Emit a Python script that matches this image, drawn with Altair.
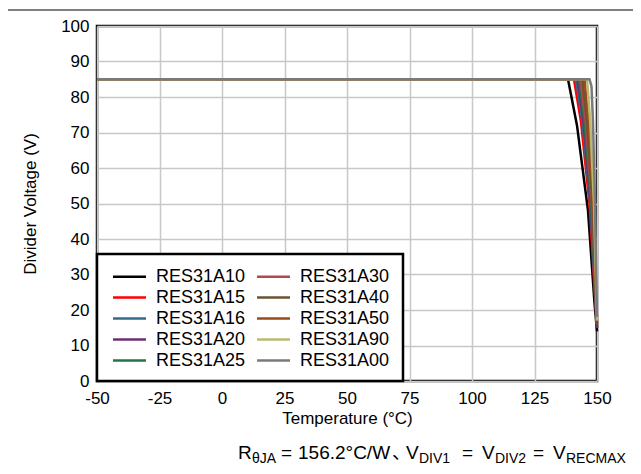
import altair as alt
import pandas as pd

# ---- data ----
series_names = ["RES31A10", "RES31A15", "RES31A16", "RES31A20", "RES31A25",
                "RES31A30", "RES31A40", "RES31A50", "RES31A90", "RES31A00"]
series_colors = ["#000000", "#ff0000", "#336b8c", "#6e2f72", "#23744c",
                 "#b4474b", "#6b5530", "#9a4a1c", "#bdb870", "#7a7a7a"]

temp_A10 = [-50, 138.4, 142.0, 146.4, 149.0, 150]
volt_A10 = [85, 85, 72, 48, 22, 14]
temp_A15 = [-50, 140.8, 143.6, 147.0, 149.2, 150]
volt_A15 = [85, 85, 73, 50, 24, 15]
temp_A16 = [-50, 141.6, 144.2, 147.3, 149.3, 150]
volt_A16 = [85, 85, 73, 50, 24, 15]
temp_A20 = [-50, 142.2, 144.6, 147.5, 149.4, 150]
volt_A20 = [85, 85, 73, 50, 24, 15]
temp_A25 = [-50, 142.8, 145.0, 147.7, 149.4, 150]
volt_A25 = [85, 85, 73, 50, 24, 16]
temp_A30 = [-50, 143.4, 145.5, 148.0, 149.5, 150]
volt_A30 = [85, 85, 73, 50, 24, 16]
temp_A40 = [-50, 144.2, 146.0, 148.2, 149.5, 150]
volt_A40 = [85, 85, 73, 50, 25, 16]
temp_A50 = [-50, 145.0, 146.6, 148.5, 149.6, 150]
volt_A50 = [85, 85, 73, 50, 25, 17]
temp_A90 = [-50, 146.0, 147.3, 148.8, 149.7, 150]
volt_A90 = [85, 85, 73, 50, 25, 17]
temp_A00 = [-50, 147.0, 147.8, 148.4, 149.2, 149.8, 150]
volt_A00 = [85, 85, 83, 73, 50, 25, 18]

x_ticks = [-50, -25, 0, 25, 50, 75, 100, 125, 150]
y_ticks = [0, 10, 20, 30, 40, 50, 60, 70, 80, 90, 100]

temps = [temp_A10, temp_A15, temp_A16, temp_A20, temp_A25,
         temp_A30, temp_A40, temp_A50, temp_A90, temp_A00]
volts = [volt_A10, volt_A15, volt_A16, volt_A20, volt_A25,
         volt_A30, volt_A40, volt_A50, volt_A90, volt_A00]

rows = []
for i, (name, ts, vs) in enumerate(zip(series_names, temps, volts)):
    for j, (t, v) in enumerate(zip(ts, vs)):
        rows.append({"Series": name, "T": t, "V": v, "k": j})
df = pd.DataFrame(rows)

FONT = "Liberation Sans"
W, H = 500, 355

xs = alt.X("T:Q", scale=alt.Scale(domain=[-50, 150], nice=False),
           axis=alt.Axis(values=x_ticks, title="Temperature (°C)", grid=True,
                         ticks=False, domain=False, labelPadding=9,
                         titlePadding=4, labelFlush=False, labelOverlap=False,
                         labelExpr="datum.value + ''"))
ys = alt.Y("V:Q", scale=alt.Scale(domain=[0, 100], nice=False),
           axis=alt.Axis(values=y_ticks, title="Divider Voltage (V)", grid=True,
                         ticks=False, domain=False, labelPadding=8,
                         titlePadding=21, labelOverlap=False,
                         labelExpr="datum.value + ''"))
color = alt.Color("Series:N",
                  scale=alt.Scale(domain=series_names, range=series_colors),
                  legend=alt.Legend(title=None, orient="none", legendX=23, legendY=241,
                                    columns=2, symbolType="M-2,0H2", symbolSize=272,
                                    symbolStrokeWidth=2.5, labelFontSize=18,
                                    labelFont=FONT, labelColor="black",
                                    labelOffset=17, rowPadding=2, columnPadding=6,
                                    padding=0))

base = alt.Chart(df)
lines_main = base.transform_filter(alt.datum.Series != "RES31A00").mark_line(
    strokeWidth=2.5).encode(x=xs, y=ys, color=color, order="k:Q")
lines_gray = base.transform_filter(alt.datum.Series == "RES31A00").mark_line(
    strokeWidth=2.5).encode(x=xs, y=ys, color=color, order="k:Q")

one = pd.DataFrame({"a": [0]})
legend_box = alt.Chart(one).mark_rect(fill="white", stroke="black", strokeWidth=2.5).encode(
    x=alt.value(0), x2=alt.value(306), y=alt.value(228), y2=alt.value(355))
top_rule = alt.Chart(one).mark_rule(color="#555555", strokeWidth=1.5).encode(
    x=alt.value(-97), x2=alt.value(560), y=alt.value(-16))


def txt(s, x, y, size):
    return alt.Chart(one).mark_text(text=s, font=FONT, fontSize=size, align="left",
                                    baseline="alphabetic", color="black").encode(
        x=alt.value(x), y=alt.value(y))


MAIN, SUB = 19, 14
yb, ysb = 433, 437
OX = 97
foot = [
    txt("R", 238 - OX, yb, MAIN),
    txt("θJA", 252 - OX, ysb, SUB),
    txt("=", 281 - OX, yb, MAIN),
    txt("156.2°C/W", 298 - OX, yb, MAIN),
    alt.Chart(one).mark_text(text="、", font="Noto Sans CJK JP", fontSize=MAIN,
                             align="left", baseline="alphabetic", color="black").encode(
        x=alt.value(392 - OX), y=alt.value(yb)),
    txt("V", 406 - OX, yb, MAIN),
    txt("DIV1", 419 - OX, ysb, SUB),
    txt("=", 462 - OX, yb, MAIN),
    txt("V", 482 - OX, yb, MAIN),
    txt("DIV2", 495 - OX, ysb, SUB),
    txt("=", 533 - OX, yb, MAIN),
    txt("V", 553 - OX, yb, MAIN),
    txt("RECMAX", 566 - OX, ysb, SUB),
]

chart = alt.layer(lines_main, lines_gray, legend_box, top_rule, *foot).properties(
    width=W, height=H,
    autosize=alt.AutoSizeParams(type="none"),
    padding={"left": 89, "top": 18, "right": 36, "bottom": 85},
).configure_view(stroke="black", strokeWidth=2.5).configure_axis(
    labelFont=FONT, titleFont=FONT, labelFontSize=17, titleFontSize=17,
    labelColor="black", titleColor="black", titleFontWeight="normal",
    gridColor="#c8c8c8", gridWidth=1.5,
)

chart.save("out.html", embed_options={"renderer": "svg", "actions": False})
